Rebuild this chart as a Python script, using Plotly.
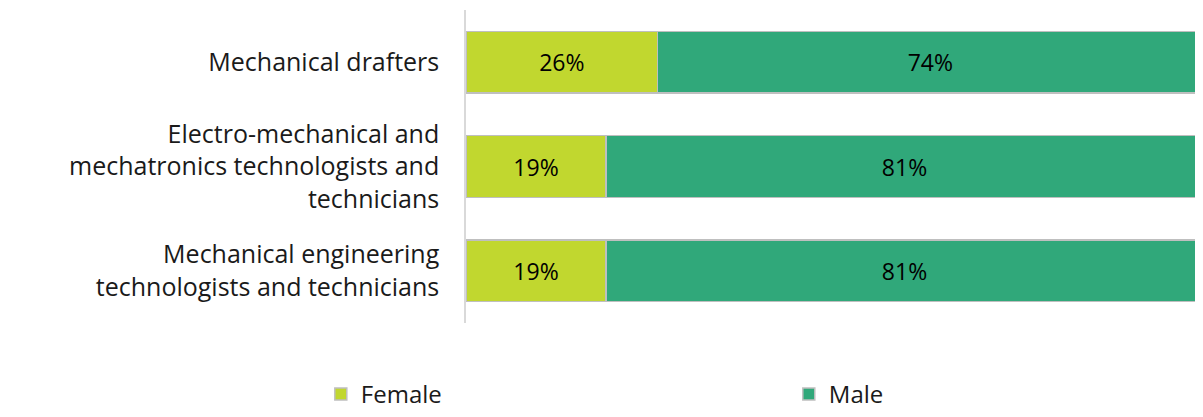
import plotly.graph_objects as go

categories = [
    "Mechanical engineering<br>technologists and technicians",
    "Electro-mechanical and<br>mechatronics technologists and<br>technicians",
    "Mechanical drafters",
]
female = [19, 19, 26]
male = [81, 81, 74]
series_names = ["Female", "Male"]
colors = ["#c1d72f", "#30a87a"]
legend_ids = ["legend", "legend2"]

FONT = "'Open Sans', Lato, sans-serif"
TXT = "#1a1a1a"

fig = go.Figure()
for name, vals, col, lg in zip(series_names, [female, male], colors, legend_ids):
    fig.add_trace(go.Bar(
        y=categories, x=vals, name=name, orientation="h",
        marker=dict(color=col, line=dict(color="#bfbfbf", width=1.5)),
        text=[f"{v}%" for v in vals], textposition="inside",
        insidetextanchor="middle",
        textfont=dict(family=FONT, size=23, color="#000000"),
        legend=lg,
    ))

leg_common = dict(
    orientation="h", xanchor="left", yanchor="bottom", y=-0.3,
    font=dict(family=FONT, size=24, color=TXT),
    itemwidth=30, bgcolor="rgba(0,0,0,0)",
)

# page body adds an 8px offset, so the figure is sized to compensate
fig.update_layout(
    barmode="stack",
    width=1195, height=409,
    margin=dict(l=458, r=0, t=2, b=94, autoexpand=False),
    paper_bgcolor="white", plot_bgcolor="white",
    bargap=0.41,
    font=dict(family=FONT, size=25, color=TXT),
    showlegend=True,
    legend=dict(x=-0.197, **leg_common),
    legend2=dict(x=0.438, **leg_common),
    uniformtext=dict(mode="show", minsize=10),
)
fig.update_xaxes(range=[0, 100], visible=False, fixedrange=True)
fig.update_yaxes(showline=True, linecolor="#d9d9d9", linewidth=1.5,
                 ticks="", ticklabelstandoff=20,
                 tickfont=dict(family=FONT, size=25, color=TXT),
                 showgrid=False)

fig.write_html("out.html")
